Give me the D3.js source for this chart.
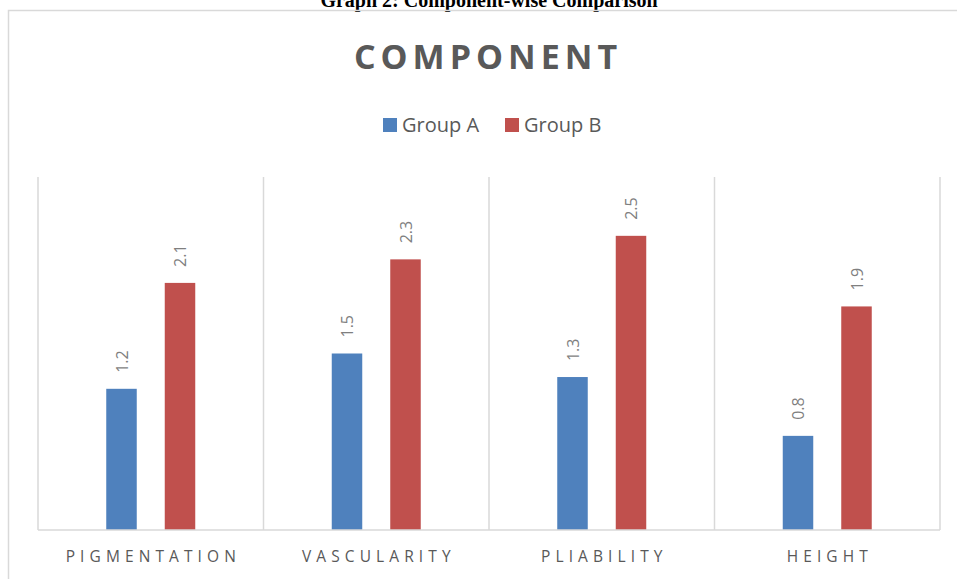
<!DOCTYPE html>
<html><head><meta charset="utf-8">
<script src="https://cdn.jsdelivr.net/npm/d3@7"></script>
<style>body{margin:0;background:#fff;} svg{display:block;}</style>
</head><body>
<svg id="c" width="957" height="579"></svg>
<script>
const categories = ["PIGMENTATION","VASCULARITY","PLIABILITY","HEIGHT"];
const seriesNames = ["Group A","Group B"];
const groupA = [1.2, 1.5, 1.3, 0.8];
const groupB = [2.1, 2.3, 2.5, 1.9];
const colors = ["#4F81BD","#C0504D"];

const svg = d3.select("#c");
// outer figure caption (clipped at top, as in the source)
svg.append("text").attr("x", 489).attr("y", 7).attr("text-anchor","middle")
  .attr("font-family","Liberation Serif, Times New Roman, serif").attr("font-weight","bold")
  .attr("font-size", 20).attr("fill","#000").text("Graph 2: Component-wise Comparison");
// chart border
svg.append("rect").attr("x", 8.5).attr("y", 10.5).attr("width", 960).attr("height", 600)
  .attr("fill","none").attr("stroke","#D9D9D9").attr("stroke-width",1.5);

const m = {l:38, r:940, t:177, b:530};
const x0 = d3.scaleBand().domain(categories).range([m.l, m.r]).paddingInner(0).paddingOuter(0);
const y = d3.scaleLinear().domain([0, 3]).range([m.b, m.t]);

const g = svg.append("g");
const seps = categories.map(c => x0(c)).concat([m.r]);
g.selectAll("line.v").data(seps).join("line")
  .attr("x1", d=>d).attr("x2", d=>d).attr("y1", m.t).attr("y2", m.b)
  .attr("stroke","#D9D9D9").attr("stroke-width",1.5);

const data = categories.map((c,i)=>({cat:c, vals:[groupA[i], groupB[i]]}));
const bw = 30.5;
const cg = svg.append("g");
data.forEach(d=>{
  d.vals.forEach((v,j)=>{
    const cx = x0(d.cat) + x0.bandwidth()/2 + (j===0 ? -29.25 : 29.25);
    cg.append("rect").attr("x", cx - bw/2).attr("y", y(v)).attr("width", bw)
      .attr("height", y(0)-y(v)).attr("fill", colors[j]);
    cg.append("text").attr("transform", `translate(${cx+6},${y(v)-16}) rotate(-90)`)
      .attr("font-family","Open Sans, sans-serif").attr("font-size",16).attr("fill","#7F7F7F")
      .attr("text-anchor","start").text(v.toFixed(1));
  });
});

svg.append("line").attr("x1", m.l).attr("x2", m.r).attr("y1", m.b).attr("y2", m.b)
  .attr("stroke","#D9D9D9").attr("stroke-width",1.5);

const ls = 5.1;
const xa = svg.append("g").attr("transform",`translate(${ls/2},${m.b})`)
  .call(d3.axisBottom(x0).tickSize(0).tickPadding(21));
xa.select(".domain").remove();
xa.selectAll("text").attr("font-family","Open Sans, sans-serif").attr("font-size",15.5)
  .attr("fill","#595959").attr("letter-spacing", ls+"px").attr("dy","0.71em");

svg.append("text").attr("x", 488).attr("y", 69).attr("text-anchor","middle")
  .attr("font-family","Open Sans, sans-serif").attr("font-weight","bold").attr("font-size",34)
  .attr("letter-spacing","5px").attr("fill","#595959").text("COMPONENT");

const leg = svg.append("g");
const legX = [383, 505];
seriesNames.forEach((s,i)=>{
  leg.append("rect").attr("x", legX[i]).attr("y", 118).attr("width",14).attr("height",14).attr("fill",colors[i]);
  leg.append("text").attr("x", legX[i]+19).attr("y", 132).attr("font-family","Open Sans, sans-serif")
    .attr("font-size",20).attr("fill","#595959").text(s);
});
</script>
</body></html>
